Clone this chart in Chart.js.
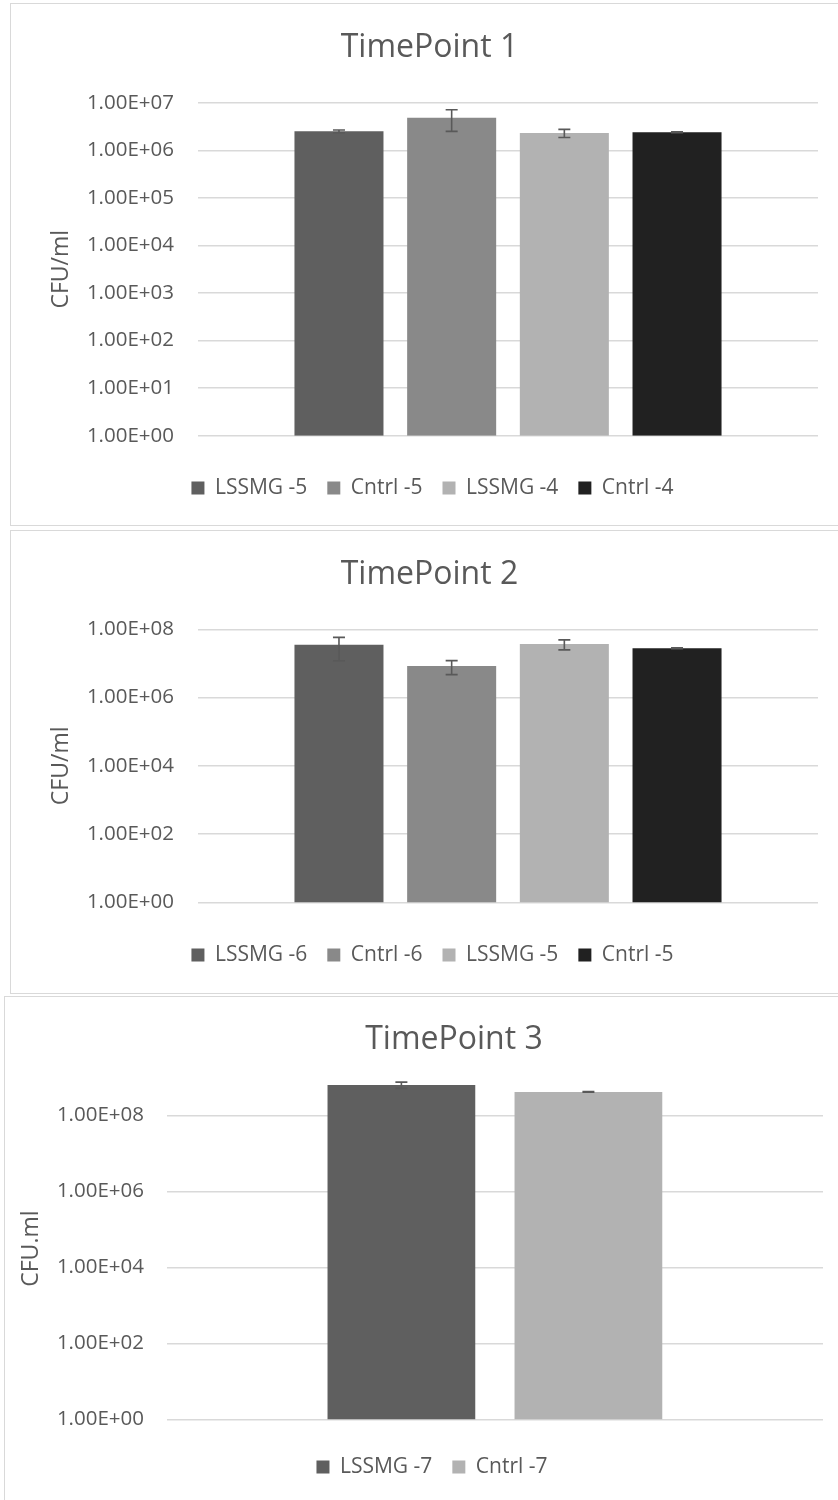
<!DOCTYPE html>
<html>
<head>
<meta charset="utf-8">
<title>TimePoint CFU/ml</title>
<script src="https://cdn.jsdelivr.net/npm/chart.js@4.4.1/dist/chart.umd.min.js"></script>
<style>
  html, body { margin: 0; padding: 0; background: #fff; overflow: hidden; }
  body { width: 838px; height: 1500px; position: relative; }
  .frame { position: absolute; border: 1.5px solid #d9d9d9; box-sizing: border-box; background: #fff; }
  canvas { position: absolute; }
</style>
</head>
<body>
<div class="frame" style="left:10px;top:3px;width:850px;height:523px"></div>
<div class="frame" style="left:10px;top:530px;width:850px;height:464px"></div>
<div class="frame" style="left:4px;top:996px;width:870px;height:520px"></div>
<canvas id="tp1" width="840" height="521" style="left:11px;top:4px"></canvas>
<canvas id="tp2" width="840" height="462" style="left:11px;top:531px"></canvas>
<canvas id="tp3" width="860" height="510" style="left:5px;top:997px"></canvas>
<script>
// TimePoint 1
const tp1Labels = ["LSSMG -5", "Cntrl -5", "LSSMG -4", "Cntrl -4"];
const tp1Values = [2.5e6, 4.8e6, 2.3e6, 2.4e6];
const tp1Errors = [0.17e6, 2.3e6, 0.45e6, 0.05e6];
const tp1Ticks = [1e0, 1e1, 1e2, 1e3, 1e4, 1e5, 1e6, 1e7];
const tp1Max = 1e7;

// TimePoint 2
const tp2Labels = ["LSSMG -6", "Cntrl -6", "LSSMG -5", "Cntrl -5"];
const tp2Values = [3.5e7, 8.4e6, 3.7e7, 2.8e7];
const tp2Errors = [2.3e7, 3.7e6, 1.2e7, 0.08e7];
const tp2Ticks = [1e0, 1e2, 1e4, 1e6, 1e8];
const tp2Max = 1e8;

// TimePoint 3
const tp3Labels = ["LSSMG -7", "Cntrl -7"];
const tp3Values = [6.4e8, 4.2e8];
const tp3Errors = [1.2e8, 0.1e8];
const tp3Ticks = [1e0, 1e2, 1e4, 1e6, 1e8];
const tp3Max = 1e9;

const grays4 = ["#5f5f5f", "#898989", "#b2b2b2", "#212121"];
const grays2 = ["#5f5f5f", "#b2b2b2"];
const textGray = "#595959";
const font = "Open Sans";

// excel style 1.00E+07
function sciLabel(v) {
  const exp = Math.round(Math.log10(v));
  const mant = v / Math.pow(10, exp);
  return mant.toFixed(2) + "E" + (exp < 0 ? "-" : "+") + String(Math.abs(exp)).padStart(2, "0");
}

// error bars, drawn with the y scale of the chart
const errorBars = {
  id: "errorBars",
  afterDatasetsDraw(chart) {
    const ctx = chart.ctx;
    const y = chart.scales.y;
    ctx.save();
    ctx.strokeStyle = textGray;
    ctx.lineWidth = 1.6;
    chart.data.datasets.forEach((ds, i) => {
      const bar = chart.getDatasetMeta(i).data[0];
      const v = ds.data[0], e = ds.errors[0];
      const top = y.getPixelForValue(v + e);
      const bot = y.getPixelForValue(Math.max(v - e, 1));
      ctx.beginPath();
      ctx.moveTo(bar.x, top); ctx.lineTo(bar.x, bot);
      ctx.moveTo(bar.x - 6, top); ctx.lineTo(bar.x + 6, top);
      ctx.moveTo(bar.x - 6, bot); ctx.lineTo(bar.x + 6, bot);
      ctx.stroke();
    });
    ctx.restore();
  }
};

// nudge title / legend sideways (excel does not centre them on the same line)
const boxShift = {
  id: "boxShift",
  afterLayout(chart, args, opts) {
    if (opts.legendDx) {
      chart.legend.left += opts.legendDx;
      chart.legend.right += opts.legendDx;
    }
    if (opts.titleDx && chart.titleBlock) {
      chart.titleBlock.left += opts.titleDx;
      chart.titleBlock.right += opts.titleDx;
    }
  }
};

function makeChart(id, labels, values, errors, colors, ticks, yMax, title, yTitle, g) {
  const titleLH = 32 * 1.2, legendPad = 20, itemH = 21;
  const xh = g.legendY - g.plotB - legendPad - itemH / 2;
  const padB = g.h - (g.plotB + xh + itemH + legendPad + 10);
  return new Chart(document.getElementById(id), {
    type: "bar",
    data: {
      labels: [""],
      datasets: labels.map((lab, i) => ({
        label: lab,
        data: [values[i]],
        errors: [errors[i]],
        backgroundColor: colors[i],
        borderColor: colors[i],
        borderWidth: 0,
        categoryPercentage: g.catPct,
        barPercentage: 0.79
      }))
    },
    options: {
      responsive: false,
      animation: false,
      layout: { padding: { left: g.padL, right: g.w - g.plotR, top: 0, bottom: padB } },
      scales: {
        x: {
          grid: { display: false },
          border: { display: false },
          ticks: { display: false },
          afterFit: s => { s.height = xh; }
        },
        y: {
          type: "logarithmic",
          min: 1,
          max: yMax,
          afterBuildTicks: s => { s.ticks = ticks.map(v => ({ value: v })); },
          afterFit: s => { s.width = g.plotL - g.padL; },
          grid: { color: "#d9d9d9", lineWidth: 1.5, drawTicks: false },
          border: { display: false },
          ticks: {
            padding: g.plotL - g.labelR,
            color: textGray,
            autoSkip: false,
            font: { family: font, size: 20.5 },
            callback: v => sciLabel(v)
          },
          title: {
            display: true,
            text: yTitle,
            color: textGray,
            font: { family: font, size: 23 },
            padding: { top: g.axisTitleX - g.padL - 13.8, bottom: 0 }
          }
        }
      },
      plugins: {
        title: {
          display: true,
          text: title,
          color: textGray,
          font: { family: font, size: 32, weight: "normal" },
          padding: { top: g.titleY - titleLH / 2, bottom: g.plotT - g.titleY - titleLH / 2 }
        },
        legend: {
          position: "bottom",
          labels: {
            boxWidth: 13,
            boxHeight: 13,
            padding: legendPad,
            color: textGray,
            font: { family: font, size: 21 }
          }
        },
        tooltip: { enabled: false },
        boxShift: { titleDx: g.titleDx || 0, legendDx: g.legendDx || 0 }
      }
    },
    plugins: [errorBars, boxShift]
  });
}

makeChart("tp1", tp1Labels, tp1Values, tp1Errors, grays4, tp1Ticks, tp1Max, "TimePoint 1", "CFU/ml",
  { w: 840, h: 521, plotL: 187, plotR: 807, plotT: 98.7, plotB: 431.7, titleY: 44, legendY: 484,
    axisTitleX: 50.2, labelR: 163, padL: 30, legendDx: 3, catPct: 0.727 });

makeChart("tp2", tp2Labels, tp2Values, tp2Errors, grays4, tp2Ticks, tp2Max, "TimePoint 2", "CFU/ml",
  { w: 840, h: 462, plotL: 187, plotR: 807, plotT: 98.3, plotB: 371.4, titleY: 44, legendY: 424,
    axisTitleX: 50.2, labelR: 163, padL: 30, legendDx: 3, catPct: 0.727 });

makeChart("tp3", tp3Labels, tp3Values, tp3Errors, grays2, tp3Ticks, tp3Max, "TimePoint 3", "CFU.ml",
  { w: 860, h: 510, plotL: 161.8, plotR: 818, plotT: 80.6, plotB: 422.6, titleY: 43, legendY: 470,
    axisTitleX: 26, labelR: 139, padL: 12, titleDx: 34, legendDx: 12, catPct: 0.57 });
</script>
</body>
</html>
